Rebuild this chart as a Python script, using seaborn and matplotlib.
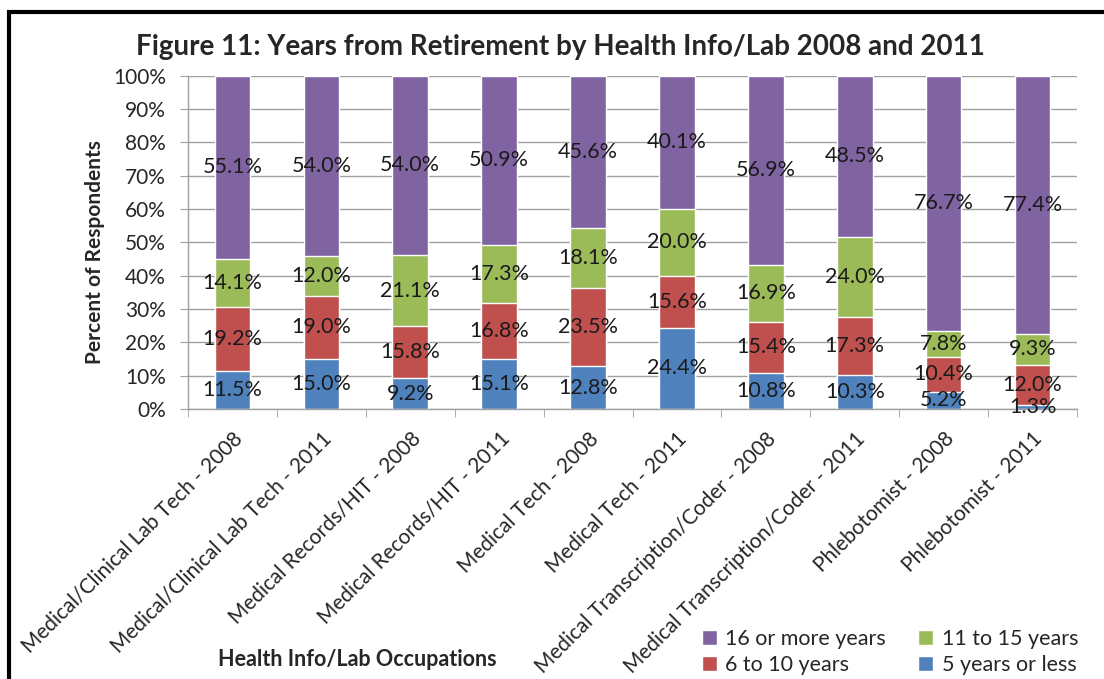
import matplotlib
matplotlib.use("Agg")
import matplotlib.pyplot as plt
import seaborn as sns
import numpy as np
import pandas as pd
from matplotlib.patches import Rectangle

# Years from retirement, percent of respondents
occupations = [
    "Medical/Clinical Lab Tech - 2008", "Medical/Clinical Lab Tech - 2011",
    "Medical Records/HIT - 2008", "Medical Records/HIT - 2011",
    "Medical Tech - 2008", "Medical Tech - 2011",
    "Medical Transcription/Coder - 2008", "Medical Transcription/Coder - 2011",
    "Phlebotomist - 2008", "Phlebotomist - 2011",
]
five_or_less = [11.5, 15.0, 9.2, 15.1, 12.8, 24.4, 10.8, 10.3, 5.2, 1.3]
six_to_ten = [19.2, 19.0, 15.8, 16.8, 23.5, 15.6, 15.4, 17.3, 10.4, 12.0]
eleven_to_fifteen = [14.1, 12.0, 21.1, 17.3, 18.1, 20.0, 16.9, 24.0, 7.8, 9.3]
sixteen_plus = [55.1, 54.0, 54.0, 50.9, 45.6, 40.1, 56.9, 48.5, 76.7, 77.4]

series = ["5 years or less", "6 to 10 years", "11 to 15 years", "16 or more years"]
colors = ["#4F81BD", "#C0504D", "#9BBB59", "#8064A2"]

df = pd.DataFrame({
    "occupation": occupations,
    series[0]: five_or_less,
    series[1]: six_to_ten,
    series[2]: eleven_to_fifteen,
    series[3]: sixteen_plus,
})
vals = df[series].values
# 100% stacked like the original
vals = vals / vals.sum(axis=1, keepdims=True) * 100
cum = np.cumsum(vals, axis=1)

sns.set_style("white")
plt.rcParams["font.family"] = ["Lato", "DejaVu Sans"]

fig = plt.figure(figsize=(11.04, 6.79), dpi=100)
ax = fig.add_axes([188 / 1104, 1 - 409 / 679, (1077 - 188) / 1104, (409 - 75.5) / 679])

# draw from the top layer down so each bar hides the part below
for i in range(3, -1, -1):
    plot_df = pd.DataFrame({"occupation": occupations, "top": cum[:, i]})
    sns.barplot(data=plot_df, x="occupation", y="top", color=colors[i],
                width=0.4, saturation=1, ax=ax, zorder=2, label=series[i])
h, l = ax.get_legend_handles_labels()
if ax.get_legend() is not None:
    ax.get_legend().remove()

# data labels in the middle of each segment
raw = df[series].values
for j in range(len(occupations)):
    for i in range(4):
        mid = cum[j, i] - vals[j, i] / 2
        ax.text(j, mid, f"{raw[j, i]:.1f}%", ha="center", va="center",
                fontsize=15.5, color="#1a1a1a", zorder=3)

ax.set_ylim(0, 100)
ax.set_xlim(-0.5, 9.5)
ax.set_yticks(np.arange(0, 101, 10))
ax.set_yticklabels([f"{v}%" for v in range(0, 101, 10)], fontsize=15)
ax.yaxis.grid(True, color="#a0a0a0", linewidth=1)
ax.set_axisbelow(True)

ax.set_xticks(range(10))
ax.set_xticklabels(occupations, rotation=45, ha="right", rotation_mode="anchor",
                   fontsize=15)
ax.set_xticks(np.arange(-0.5, 10, 1), minor=True)
ax.tick_params(axis="x", which="major", length=0, pad=14)
ax.tick_params(axis="x", which="minor", length=6, color="#a0a0a0", direction="out", bottom=True)
ax.tick_params(axis="y", length=6, color="#a0a0a0", direction="out", left=True, pad=10)

for s in ["top", "right"]:
    ax.spines[s].set_visible(False)
for s in ["left", "bottom"]:
    ax.spines[s].set_color("#a0a0a0")
    ax.spines[s].set_linewidth(1)

ax.set_xlabel("")
ax.set_ylabel("")
fig.text(95 / 1104, 1 - 252 / 679, "Percent of Respondents", ha="center", va="center",
         rotation=90, fontsize=15, fontweight="bold")
fig.text(357 / 1104, 1 - 659 / 679, "Health Info/Lab Occupations", ha="center",
         va="center", fontsize=15.5, fontweight="bold")
fig.text(560 / 1104, 1 - 47 / 679, "Figure 11: Years from Retirement by Health Info/Lab 2008 and 2011",
         ha="center", va="center", fontsize=20, fontweight="bold")

# legend, purple/green on top row, red/blue below
lookup = dict(zip(l, h))
order = ["16 or more years", "6 to 10 years", "11 to 15 years", "5 years or less"]
fig.legend([lookup[k] for k in order], order, ncol=2, frameon=False, fontsize=15.5,
           loc="center", bbox_to_anchor=(890 / 1104, 1 - 652 / 679),
           handlelength=0.7, handleheight=0.7, handletextpad=0.4,
           columnspacing=1.5, labelspacing=0.3)

# black frame around the chart
fig.patches.append(Rectangle((9 / 1104, -0.1), 1.2, 1.1 - 12 / 679,
                             transform=fig.transFigure, fill=False,
                             edgecolor="black", linewidth=3))

fig.savefig("out.png", dpi=100)
